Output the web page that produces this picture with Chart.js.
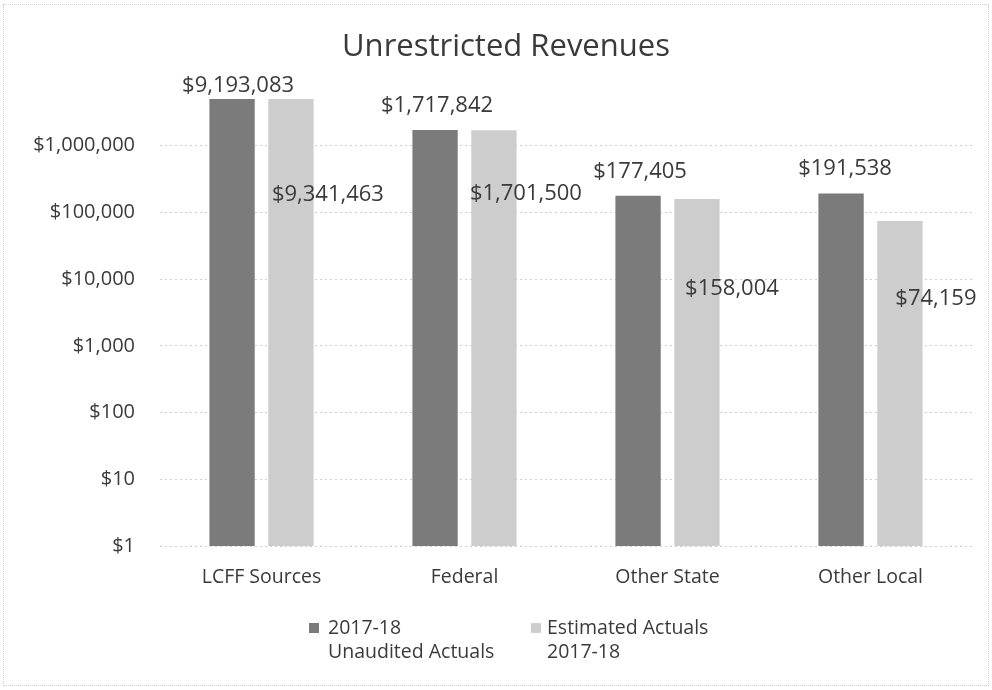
<!DOCTYPE html>
<html>
<head>
<meta charset="utf-8">
<script src="https://cdn.jsdelivr.net/npm/chart.js@4.4.1/dist/chart.umd.min.js"></script>
<style>
  html, body { margin: 0; padding: 0; background: #fff; }
  #wrap { width: 992px; height: 690px; position: relative; }
  #wrap::after { content: ''; position: absolute; left: 3px; top: 4px; right: 3px; bottom: 4px;
    border: 1px dotted #cfcfcf; pointer-events: none; }
</style>
</head>
<body>
<div id="wrap"><canvas id="myChart" width="992" height="690"></canvas></div>
<script>
const ctx = document.getElementById('myChart');

const categories = ['LCFF Sources', 'Federal', 'Other State', 'Other Local'];
const seriesNames = [['2017-18', 'Unaudited Actuals'], ['Estimated Actuals', '2017-18']];
const unauditedActuals = [9193083, 1717842, 177405, 191538];
const estimatedActuals = [9341463, 1701500, 158004, 74159];
const tickValues = [1, 10, 100, 1000, 10000, 100000, 1000000];

const FONT = "'Open Sans', sans-serif";
const TEXT = '#3a3a3a';
const DARK = '#7b7b7b';
const LIGHT = '#cdcdcd';

function money(v) {
  return '$' + Math.round(v).toLocaleString('en-US');
}

// label nudges (px) for each series, roughly where they sit in the original
const labelNudge = {
  0: { dx: [6, 2, 2, 4], dy: [-13, -24, -24, -25] },
  1: { dx: [37, 32, 35, 36], dy: [96, 63, 90, 78] }
};

const extras = {
  id: 'extras',
  afterDraw(chart) {
    const c = chart.ctx;
    const area = chart.chartArea;
    c.save();
    // title
    c.fillStyle = TEXT;
    c.font = '31px ' + FONT;
    c.textAlign = 'center';
    c.textBaseline = 'middle';
    c.fillText('Unrestricted Revenues', 506, 47);

    // value labels
    c.font = '22px ' + FONT;
    chart.data.datasets.forEach((ds, di) => {
      const meta = chart.getDatasetMeta(di);
      meta.data.forEach((bar, i) => {
        const top = Math.max(bar.y, area.top);
        const n = labelNudge[di];
        c.fillText(money(ds.data[i]), bar.x + n.dx[i], top + n.dy[i]);
      });
    });

    // legend (two-line labels)
    c.font = '19.5px ' + FONT;
    c.textAlign = 'left';
    const items = [
      { color: DARK, box: 309, text: 328 },
      { color: LIGHT, box: 531, text: 547 }
    ];
    items.forEach((it, k) => {
      c.fillStyle = it.color;
      c.fillRect(it.box, 623, 10, 10);
      c.fillStyle = TEXT;
      c.fillText(seriesNames[k][0], it.text, 628);
      c.fillText(seriesNames[k][1], it.text, 652);
    });
    c.restore();
  }
};

const myChart = new Chart(ctx, {
  type: 'bar',
  data: {
    labels: categories,
    datasets: [
      {
        label: seriesNames[0].join(' '),
        data: unauditedActuals,
        backgroundColor: DARK,
        categoryPercentage: 0.58,
        barPercentage: 0.77
      },
      {
        label: seriesNames[1].join(' '),
        data: estimatedActuals,
        backgroundColor: LIGHT,
        categoryPercentage: 0.58,
        barPercentage: 0.77
      }
    ]
  },
  options: {
    responsive: false,
    animation: false,
    layout: { padding: { top: 99, right: 20, left: 0, bottom: 0 } },
    plugins: {
      legend: { display: false },
      title: { display: false },
      tooltip: { enabled: false }
    },
    scales: {
      x: {
        grid: { display: false, drawTicks: false },
        border: { display: false },
        ticks: { color: TEXT, font: { family: FONT, size: 19.5 }, padding: 20, maxRotation: 0 },
        afterFit(scale) { scale.height = 144; }
      },
      y: {
        type: 'logarithmic',
        min: 1,
        max: 5000000,
        afterBuildTicks(scale) {
          scale.ticks = tickValues.map(v => ({ value: v }));
        },
        afterFit(scale) { scale.width = 160; },
        grid: { color: '#cfcfcf', drawTicks: false, lineWidth: 1 },
        border: { display: false, dash: [2, 3] },
        ticks: {
          color: TEXT,
          font: { family: FONT, size: 20 },
          padding: 25,
          callback: v => money(v)
        }
      }
    }
  },
  plugins: [extras]
});
</script>
</body>
</html>
